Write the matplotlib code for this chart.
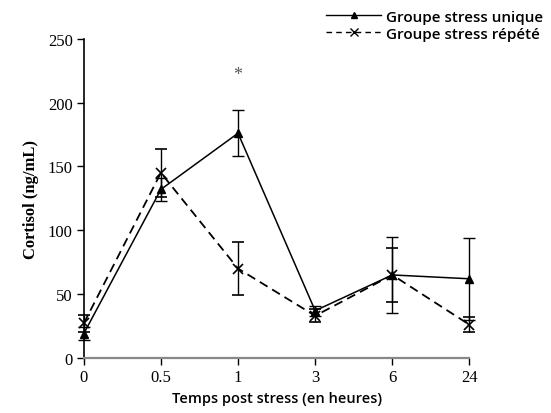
import matplotlib.pyplot as plt
from matplotlib.lines import Line2D

temps = ['0', '0.5', '1', '3', '6', '24']

unique = [19, 132, 176, 37, 65, 62]
unique_err = [5, 9, 18, 4, 30, 32]

repete = [27, 145, 70, 33, 65, 26]
repete_err = [7, 19, 21, 5, 21, 6]

x = list(range(len(temps)))

fig = plt.figure(figsize=(5.51, 4.14), dpi=100)
ax = fig.add_axes([0.152, 0.133, 0.70, 0.771])

ax.errorbar(x, unique, yerr=unique_err, color='black', lw=1.1, marker='^', ms=6,
            capsize=4, elinewidth=1.0, capthick=1.0)
ax.errorbar(x, repete, yerr=repete_err, color='black', lw=1.3, ls=(0, (5, 3)), marker='x', ms=7,
            mew=1.2, capsize=4, elinewidth=1.0, capthick=1.0)

ax.text(2, 222, '*', ha='center', va='center', fontsize=13, color='#555555', family='Liberation Serif')

ax.set_xlim(0, 5)
ax.set_ylim(0, 250)
ax.set_xticks(x)
ax.set_xticklabels(temps)
ax.set_yticks([0, 50, 100, 150, 200, 250])

ax.spines['top'].set_visible(False)
ax.spines['right'].set_visible(False)
ax.spines['bottom'].set_color('#888888')
ax.spines['bottom'].set_linewidth(1.6)
ax.spines['left'].set_linewidth(1.2)
ax.tick_params(direction='out', length=5, width=1, labelsize=12, pad=3)
for lab in ax.get_xticklabels() + ax.get_yticklabels():
    lab.set_family('Liberation Serif')
for c in ax.get_children():
    c.set_clip_on(False)

ax.set_ylabel('Cortisol (ng/mL)', family='Liberation Serif', fontweight='bold', fontsize=12, labelpad=6)
ax.set_xlabel('Temps post stress (en heures)', family='Open Sans', fontweight='semibold', fontsize=10.5, labelpad=4)

handles = [
    Line2D([], [], color='black', lw=1.0, marker='^', ms=5),
    Line2D([], [], color='black', lw=1.0, ls=(0, (4, 3)), marker='x', ms=6, mew=1.0),
]
fig.legend(handles, ['Groupe stress unique', 'Groupe stress répété'], loc='upper right',
           bbox_to_anchor=(1.005, 1.0), frameon=False, handlelength=3.6,
           handletextpad=0.3, labelspacing=0.2, borderaxespad=0.3,
           prop={'family': 'Open Sans', 'weight': 'semibold', 'size': 11})

plt.savefig('out.png', dpi=100)
